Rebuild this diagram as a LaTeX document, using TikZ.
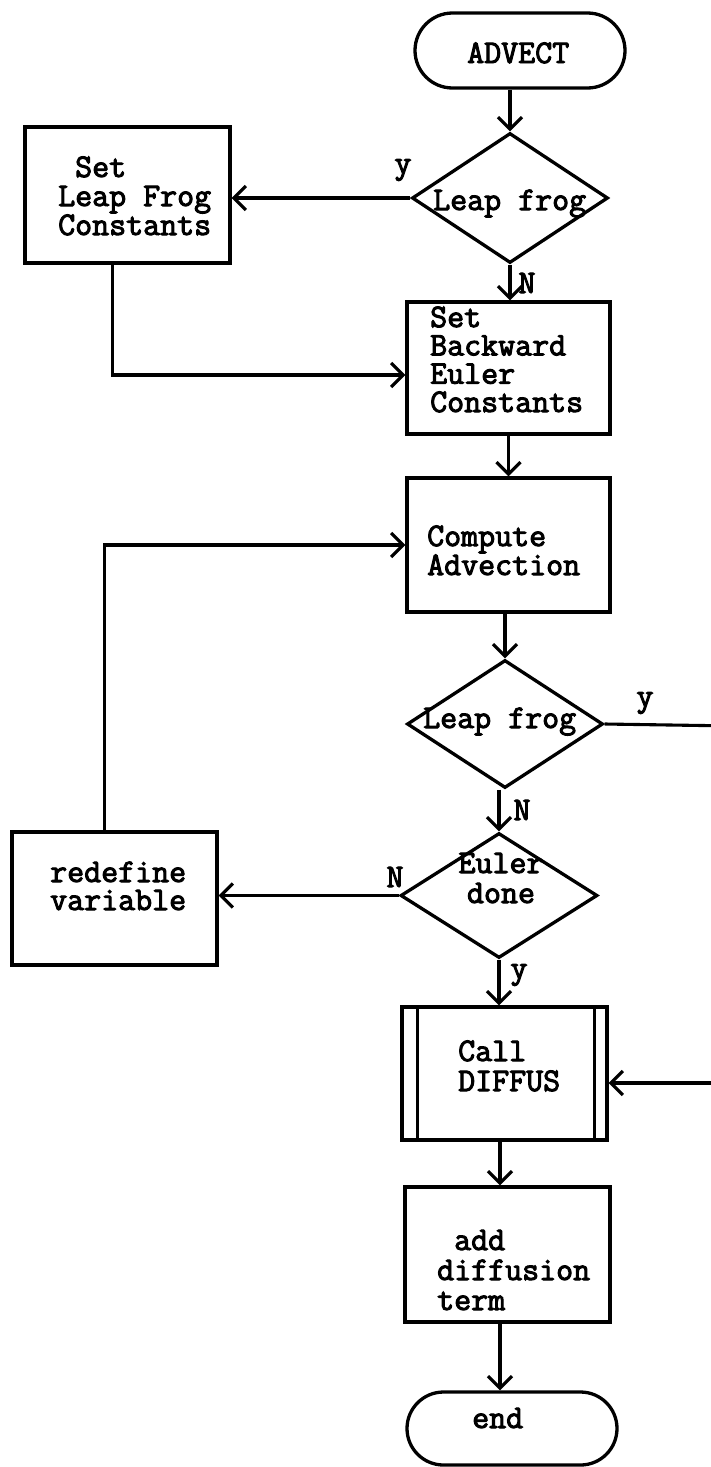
\documentclass[tikz,border=0pt]{standalone}
\usepackage{fontspec}
\newfontfamily\tw[FakeBold=3]{Latin Modern Mono}
\usetikzlibrary{shapes.geometric,shapes.misc,arrows.meta}
\begin{document}
\begin{tikzpicture}[x=1pt,y=-1pt,
  outline/.style={draw, line width=3.3pt, inner sep=0pt},
  procbox/.style={outline, rectangle, minimum width=#1},
  decision/.style={outline, diamond, minimum width=196pt},
  terminal/.style={outline, rounded rectangle, minimum width=210pt},
  conn/.style={line width=3.1pt},
  flow/.style={conn, -{Straight Barb[length=12pt, width=24pt]}},
  txt/.style={font=\fontsize{33}{#1}\selectfont\tw, inner sep=0pt, align=left, anchor=base west},
  txt/.default=29,
  lbl/.style={font=\fontsize{33}{29}\selectfont\tw, inner sep=0pt, anchor=center}
]
\useasboundingbox (0,0) rectangle (711,1467);

% shapes
\node[terminal, minimum height=75pt] (adv) at (520,50.5) {};
\node[decision, minimum height=130pt] (d1) at (510,198) {};
\node[procbox=205pt, minimum height=136pt] (lfset) at (127.5,195) {};
\node[procbox=203pt, minimum height=132pt] (beset) at (508.5,368) {};
\node[procbox=203pt, minimum height=134pt] (comp) at (508.5,545) {};
\node[decision, minimum height=128pt] (d2) at (505,724) {};
\node[decision, minimum width=197pt, minimum height=125pt] (d3) at (499,895.5) {};
\node[procbox=205pt, minimum height=133pt] (redef) at (114.5,898.5) {};
\node[procbox=205pt, minimum height=133pt] (call) at (504.5,1073.5) {};
\node[procbox=205pt, minimum height=135pt] (add) at (507.5,1254.5) {};
\node[terminal, minimum height=73pt] (endt) at (512,1428.5) {};

% subroutine side bars
\draw[line width=3.3pt] ([xshift=17pt]call.north west) -- ([xshift=17pt]call.south west);
\draw[line width=3.3pt] ([xshift=-14pt]call.north east) -- ([xshift=-14pt]call.south east);

% texts (anchored at the baseline of their last line)
\node[txt] (adv-t) at (467,63) {ADVECT};
\node[txt] (d1-t) at (433,210) {Leap frog};
\node[txt=29] (lfset-t) at (58,235) {\ Set\\Leap Frog\\Constants};
\node[txt=28.3] (beset-t) at (430,412) {Set\\Backward\\Euler\\Constants};
\node[txt=27] (comp-t) at (427,575) {Compute\\Advection};
\node[txt] (d2-t) at (423,728) {Leap frog};
\node[txt=30, align=center, anchor=base] (d3-t) at (501,903) {Euler\\done};
\node[txt=28] (redef-t) at (50,910) {redefine\\variable};
\node[txt=30] (call-t) at (458,1091) {Call\\DIFFUS};
\node[txt=30] (add-t) at (437,1310) {\ add\\diffusion\\term};
\node[txt] (endt-t) at (472,1428) {end};

% branch labels
\node[lbl] (l1y) at (403,170) {y};
\node[lbl] (l1n) at (527,283) {N};
\node[lbl] (l2y) at (645,703) {y};
\node[lbl] (l2n) at (522,810) {N};
\node[lbl] (l3n) at (395,877) {N};
\node[lbl] (l3y) at (519,975) {y};

% off-page return path
\coordinate (rr1) at (735,726);
\coordinate (rr2) at (735,1083);

% connectors
\draw[flow] (d1.north |- adv.south) -- (d1.north);
\draw[flow] (d1.west) -- (d1.west -| lfset.east);
\draw[flow] (d1.south) -- (d1.south |- beset.north);
\draw[flow] ([xshift=-15pt]lfset.south) |- ([yshift=-7pt]beset.west);
\draw[flow] (beset.south) -- (comp.north);
\draw[flow] ([xshift=-10pt]redef.north) |- (comp.west);
\draw[flow] (d2.north |- comp.south) -- (d2.north);
\draw[flow] (d3.north |- d2.south) -- (d3.north);
\draw[conn] (d2.east) -- (rr1) -- (rr2);
\draw[flow] (rr2) -- (rr2 -| call.east);
\draw[flow] (d3.west) -- (d3.west -| redef.east);
\draw[flow] (d3.south) -- (d3.south |- call.north);
\draw[flow] ([xshift=-4.5pt]call.south) -- ([xshift=-4.5pt]call.south |- add.north);
\draw[flow] ([xshift=-7.5pt]add.south) -- ([xshift=-7.5pt]add.south |- endt.north);
\end{tikzpicture}
\end{document}
